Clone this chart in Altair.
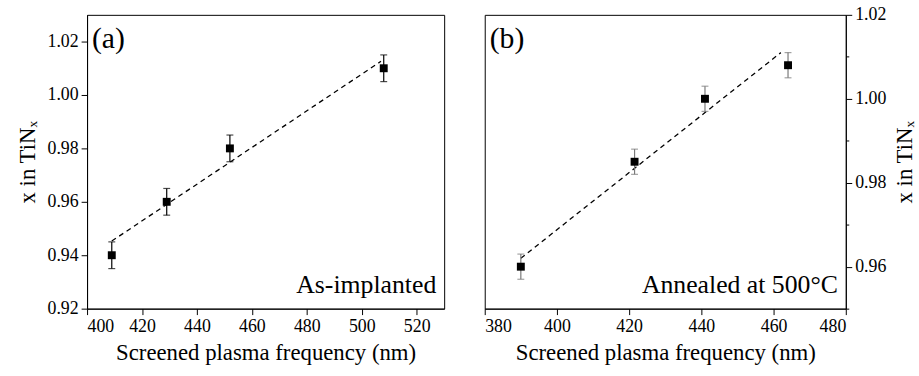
import altair as alt
import pandas as pd

# ---- data ----
a_freq = [409, 429, 452, 508]
a_x = [0.940, 0.960, 0.980, 1.010]
a_err = [0.005, 0.005, 0.005, 0.005]
a_fit_freq = [409, 507]
a_fit_x = [0.9453, 1.0126]

b_freq = [390, 421.5, 441, 464]
b_x = [0.960, 0.985, 1.000, 1.008]
b_err = [0.003, 0.003, 0.003, 0.003]
b_fit_freq = [390, 462]
b_fit_x = [0.962, 1.011]

a_xticks = list(range(400, 531, 10))
a_yticks = [round(0.92 + 0.01 * i, 2) for i in range(12)]
b_xticks = list(range(380, 481, 10))
b_yticks = [round(0.95 + 0.01 * i, 2) for i in range(8)]

FONT = "Liberation Serif"
W_A, W_B, H = 361, 365, 297
XTITLE = "Screened plasma frequency (nm)"
YTITLE = "x in TiNₓ"


def df_points(f, v, e):
    return pd.DataFrame({"f": f, "v": v, "lo": [a - b for a, b in zip(v, e)],
                         "hi": [a + b for a, b in zip(v, e)]})


def panel(f, v, e, ff, fv, xdom, ydom, xticks, yticks, yorient, errcolor,
          label, note, width):
    pts = df_points(f, v, e)
    fit = pd.DataFrame({"f": ff, "v": fv})
    xaxis = alt.Axis(values=xticks, title=XTITLE, format="d",
                     labelExpr="datum.value % 20 == 0 ? datum.label : ''",
                     tickSize={"condition": {"test": "datum.value % 20 == 0", "value": 6}, "value": 3},
                     grid=False, labelPadding=3, titlePadding=6)
    yaxis_kw = dict(values=yticks, title=YTITLE, format=".2f",
                    labelExpr="round(datum.value*100) % 2 == 0 ? datum.label : ''",
                    tickSize={"condition": {"test": "round(datum.value*100) % 2 == 0", "value": 6}, "value": 3},
                    grid=False, orient=yorient, labelPadding=3, titlePadding=8)
    if yorient == "right":
        yaxis_kw["titleAngle"] = 270
        yaxis_kw["titleBaseline"] = "top"
    yaxis = alt.Axis(**yaxis_kw)
    xs = alt.Scale(domain=xdom, nice=False, zero=False)
    ys = alt.Scale(domain=ydom, nice=False, zero=False)

    base = alt.Chart(pts)
    line = alt.Chart(fit).mark_line(color="black", strokeDash=[5, 4], strokeWidth=1.3).encode(
        x=alt.X("f:Q", scale=xs, axis=xaxis), y=alt.Y("v:Q", scale=ys, axis=yaxis))
    rule = base.mark_rule(color=errcolor, strokeWidth=1.2).encode(
        x="f:Q", y="lo:Q", y2="hi:Q")
    cap_lo = base.mark_tick(color=errcolor, orient="horizontal", size=7, thickness=1.2).encode(
        x="f:Q", y="lo:Q")
    cap_hi = base.mark_tick(color=errcolor, orient="horizontal", size=7, thickness=1.2).encode(
        x="f:Q", y="hi:Q")
    sq = base.mark_square(color="black", size=64, opacity=1).encode(x="f:Q", y="v:Q")
    lab = alt.Chart(pd.DataFrame({"t": [label]})).mark_text(
        font=FONT, fontSize=30, align="left", baseline="alphabetic", color="black").encode(
        text="t:N", x=alt.value(5), y=alt.value(34))
    nt = alt.Chart(pd.DataFrame({"t": [note]})).mark_text(
        font=FONT, fontSize=26, align="right", baseline="alphabetic", color="black").encode(
        text="t:N", x=alt.value(width - 8), y=alt.value(281))
    return alt.layer(line, rule, cap_lo, cap_hi, sq, lab, nt).properties(width=width, height=H)


pa = panel(a_freq, a_x, a_err, a_fit_freq, a_fit_x, [400, 530], [0.92, 1.03],
           a_xticks, a_yticks, "left", "black", "(a)", "As-implanted", W_A)
pb = panel(b_freq, b_x, b_err, b_fit_freq, b_fit_x, [380, 480], [0.95, 1.02],
           b_xticks, b_yticks, "right", "#7a7a7a", "(b)", "Annealed at 500°C", W_B)

chart = alt.hconcat(pa, pb, spacing=41, bounds="flush").configure(
    padding={"left": 16, "top": 3, "right": 2, "bottom": 2},
    background="white",
).configure_view(stroke="black", strokeWidth=1).configure_axis(
    labelFont=FONT, labelFontSize=18, labelColor="black",
    titleFont=FONT, titleFontSize=23, titleFontWeight="normal", titleColor="black",
    domainColor="black", tickColor="black", domainWidth=1, tickWidth=1,
)

chart.save("out.html", embed_options={"renderer": "svg", "actions": False})
